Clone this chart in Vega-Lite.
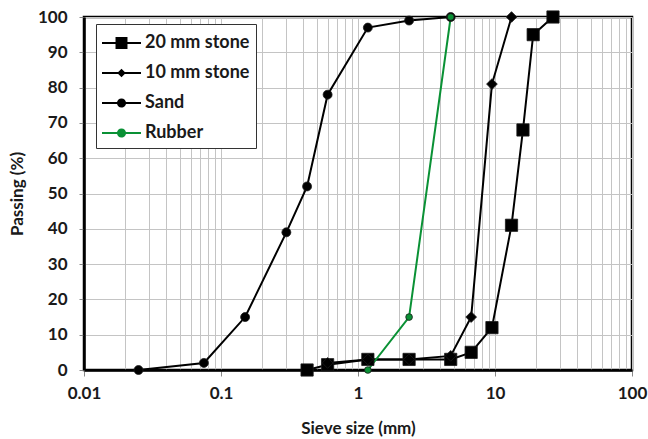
{
  "$schema": "https://vega.github.io/schema/vega-lite/v6.json",
  "width": 548,
  "height": 353,
  "autosize": "none",
  "padding": {"left": 84, "top": 17, "right": 16, "bottom": 69},
  "background": "white",
  "config": {
    "view": {"stroke": "black", "strokeWidth": 2.5},
    "font": "Lato",
    "axis": {
      "domainColor": "black",
      "domainWidth": 2.5,
      "gridColor": "#c4c4c4",
      "gridWidth": 1,
      "tickColor": "#888888",
      "labelFont": "Lato",
      "labelFontWeight": "bold",
      "labelFontSize": 17,
      "labelColor": "#1a1a1a",
      "titleFont": "Lato",
      "titleFontWeight": "bold",
      "titleFontSize": 17,
      "titleColor": "#1a1a1a"
    },
    "legend": {
      "labelFont": "Lato",
      "labelFontWeight": "bold",
      "labelFontSize": 18,
      "labelColor": "#1a1a1a"
    }
  },
  "data": {
    "values": [
      {"series": "20 mm stone", "size": 0.425, "passing": 0},
      {"series": "20 mm stone", "size": 0.6, "passing": 1.5},
      {"series": "20 mm stone", "size": 1.18, "passing": 3},
      {"series": "20 mm stone", "size": 2.36, "passing": 3},
      {"series": "20 mm stone", "size": 4.75, "passing": 3},
      {"series": "20 mm stone", "size": 6.7, "passing": 5},
      {"series": "20 mm stone", "size": 9.5, "passing": 12},
      {"series": "20 mm stone", "size": 13.2, "passing": 41},
      {"series": "20 mm stone", "size": 16, "passing": 68},
      {"series": "20 mm stone", "size": 19, "passing": 95},
      {"series": "20 mm stone", "size": 26.5, "passing": 100},
      {"series": "10 mm stone", "size": 0.6, "passing": 2},
      {"series": "10 mm stone", "size": 1.18, "passing": 3},
      {"series": "10 mm stone", "size": 2.36, "passing": 3},
      {"series": "10 mm stone", "size": 4.75, "passing": 4},
      {"series": "10 mm stone", "size": 6.7, "passing": 15},
      {"series": "10 mm stone", "size": 9.5, "passing": 81},
      {"series": "10 mm stone", "size": 13.2, "passing": 100},
      {"series": "Sand", "size": 0.025, "passing": 0},
      {"series": "Sand", "size": 0.075, "passing": 2},
      {"series": "Sand", "size": 0.15, "passing": 15},
      {"series": "Sand", "size": 0.3, "passing": 39},
      {"series": "Sand", "size": 0.425, "passing": 52},
      {"series": "Sand", "size": 0.6, "passing": 78},
      {"series": "Sand", "size": 1.18, "passing": 97},
      {"series": "Sand", "size": 2.36, "passing": 99},
      {"series": "Sand", "size": 4.75, "passing": 100},
      {"series": "Rubber", "size": 1.18, "passing": 0},
      {"series": "Rubber", "size": 2.36, "passing": 15},
      {"series": "Rubber", "size": 4.75, "passing": 100}
    ]
  },
  "encoding": {
    "x": {
      "field": "size",
      "type": "quantitative",
      "scale": {"type": "log", "domain": [0.01, 100], "nice": false},
      "axis": {
        "title": "Sieve size (mm)",
        "titlePadding": 19,
        "values": [0.01,0.02,0.03,0.04,0.05,0.06,0.07,0.08,0.09,0.1,0.2,0.3,0.4,0.5,0.6,0.7,0.8,0.9,1,2,3,4,5,6,7,8,9,10,20,30,40,50,60,70,80,90,100],
        "labelExpr": "abs(log(datum.value)/LN10 - round(log(datum.value)/LN10)) < 0.001 ? format(datum.value, '~g') : ''",
        "tickSize": 6,
        "tickOpacity": {"condition": {"test": "abs(log(datum.value)/LN10 - round(log(datum.value)/LN10)) < 0.001", "value": 1}, "value": 0},
        "labelPadding": 9,
        "labelFlush": false,
        "labelOverlap": false
      }
    },
    "y": {
      "field": "passing",
      "type": "quantitative",
      "scale": {"domain": [0, 100], "nice": false},
      "axis": {
        "title": "Passing (%)",
        "values": [0,10,20,30,40,50,60,70,80,90,100],
        "tickSize": 5,
        "labelPadding": 12,
        "titlePadding": 11
      }
    }
  },
  "layer": [
    {
      "mark": {"type": "line", "strokeWidth": 2},
      "encoding": {
        "color": {
          "field": "series",
          "type": "nominal",
          "scale": {"domain": ["20 mm stone", "10 mm stone", "Sand", "Rubber"], "range": ["#000000", "#000000", "#000000", "#0a9135"]},
          "legend": null
        }
      }
    },
    {
      "mark": {"type": "point", "filled": true, "opacity": 1, "stroke": "#1a1a1a", "strokeWidth": 0.8},
      "encoding": {
        "color": {
          "field": "series",
          "type": "nominal",
          "legend": null
        },
        "shape": {
          "field": "series",
          "type": "nominal",
          "scale": {"domain": ["20 mm stone", "10 mm stone", "Sand", "Rubber"], "range": ["square", "diamond", "circle", "circle"]},
          "legend": null
        },
        "size": {
          "field": "series",
          "type": "nominal",
          "scale": {"domain": ["20 mm stone", "10 mm stone", "Sand", "Rubber"], "range": [150, 45, 70, 70]},
          "legend": null
        }
      }
    },
    {
      "mark": {"type": "point", "filled": true, "opacity": 0},
      "encoding": {
        "fill": {
          "field": "series",
          "type": "nominal",
          "scale": {"domain": ["20 mm stone", "10 mm stone", "Sand", "Rubber"], "range": ["#000000", "#000000", "#000000", "#0a9135"]},
          "legend": null
        },
        "shape": {
          "field": "series",
          "type": "nominal",
          "scale": {"domain": ["20 mm stone", "10 mm stone", "Sand", "Rubber"], "range": [
            "M-1,-0.08H2V0.08H-1Z M0.04,-0.46H0.96V0.46H0.04Z",
            "M-1,-0.08H2V0.08H-1Z M0.5,-0.33L0.83,0L0.5,0.33L0.17,0Z",
            "M-1,-0.08H2V0.08H-1Z M0.85,0A0.35,0.35,0,1,1,0.15,0A0.35,0.35,0,1,1,0.85,0Z",
            "M-1,-0.08H2V0.08H-1Z M0.85,0A0.35,0.35,0,1,1,0.15,0A0.35,0.35,0,1,1,0.85,0Z"
          ]},
          "legend": {
            "title": null,
            "orient": "none",
            "legendX": 12,
            "legendY": 7,
            "symbolSize": 676,
            "symbolOpacity": 1,
            "symbolStrokeWidth": 0,
            "fillColor": "white",
            "strokeColor": "#333333",
            "padding": 6,
            "rowPadding": 8,
            "labelOffset": 17
          }
        }
      }
    }
  ],
  "resolve": {"scale": {"shape": "independent", "fill": "independent"}}
}
